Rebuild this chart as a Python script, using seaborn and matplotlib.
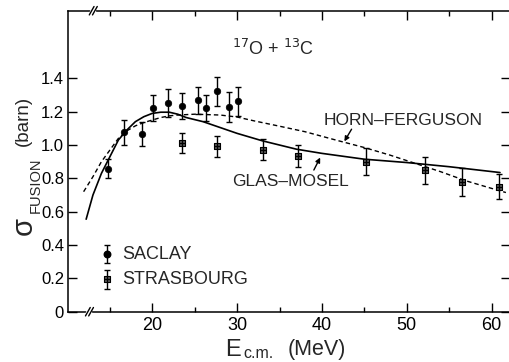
import numpy as np
import pandas as pd
import matplotlib
matplotlib.use("Agg")
import matplotlib.pyplot as plt
import matplotlib.transforms as mtransforms
import seaborn as sns

# Measured fusion cross sections, 17O + 13C
saclay_e = [14.8, 16.7, 18.8, 20.1, 21.9, 23.5, 25.4, 26.3, 27.6, 29.1, 30.1]
saclay_sigma = [0.857, 1.077, 1.067, 1.221, 1.255, 1.235, 1.269, 1.223, 1.323, 1.229, 1.263]
saclay_err = [0.057, 0.075, 0.073, 0.078, 0.084, 0.078, 0.080, 0.080, 0.088, 0.088, 0.088]

strasbourg_e = [23.5, 27.6, 33.0, 37.2, 45.2, 52.2, 56.5, 60.9]
strasbourg_sigma = [1.013, 0.993, 0.973, 0.933, 0.899, 0.849, 0.777, 0.749]
strasbourg_err = [0.060, 0.062, 0.064, 0.066, 0.081, 0.080, 0.083, 0.075]

# Model curves
glas_e = [12.2, 13.0, 14.0, 15.0, 16.0, 17.0, 18.0, 19.0, 20.0, 21.0, 22.0, 23.0,
          24.0, 26.0, 28.0, 30.0, 33.0, 37.0, 40.0, 45.0, 50.0, 55.0, 61.0]
glas_sigma = [0.555, 0.700, 0.830, 0.930, 1.030, 1.090, 1.140, 1.170, 1.190, 1.197,
              1.197, 1.185, 1.165, 1.140, 1.105, 1.070, 1.025, 0.975, 0.950, 0.915,
              0.895, 0.870, 0.835]

horn_e = [11.9, 13.0, 14.0, 15.0, 16.0, 17.0, 18.0, 19.0, 20.0, 21.0, 22.0, 23.0,
          25.0, 28.0, 30.0, 32.0, 35.0, 38.0, 42.0, 45.0, 48.0, 51.0, 54.0, 57.0,
          60.0, 61.7]
horn_sigma = [0.720, 0.810, 0.900, 0.970, 1.040, 1.085, 1.115, 1.135, 1.150, 1.165,
              1.175, 1.180, 1.185, 1.180, 1.168, 1.145, 1.113, 1.080, 1.025, 0.985,
              0.940, 0.890, 0.840, 0.785, 0.740, 0.715]

x_major = [20, 30, 40, 50, 60]
x_minor = [15, 25, 35, 45, 55]
y_major = [0, 0.2, 0.4, 0.6, 0.8, 1.0, 1.2, 1.4]
y_labels = ["0", "0.2", "0.4", "0.6", "0.8", "1.0", "1.2", "1.4"]

sns.set_theme(style="ticks")
plt.rcParams["font.family"] = ["Liberation Sans", "DejaVu Sans"]

W, H = 510, 362
fig = plt.figure(figsize=(W / 100, H / 100), dpi=100)
x0, x1, y0, y1 = 67.5, 510.5, 10.7, 311.7
ax = fig.add_axes([x0 / W, 1 - y1 / H, (x1 - x0) / W, (y1 - y0) / H])
ax.set_facecolor("white")
fig.patch.set_facecolor("white")

glas = pd.DataFrame({"E": glas_e, "sigma": glas_sigma})
horn = pd.DataFrame({"E": horn_e, "sigma": horn_sigma})
sns.lineplot(data=glas, x="E", y="sigma", ax=ax, color="black", lw=1.2,
             sort=False, estimator=None)
sns.lineplot(data=horn, x="E", y="sigma", ax=ax, color="black", lw=1.0,
             sort=False, estimator=None, dashes=False, linestyle=(0, (3.2, 2.2)))

# Error bars
ax.errorbar(saclay_e, saclay_sigma, yerr=saclay_err, fmt="none", ecolor="black",
            elinewidth=1.0, capsize=2.3, capthick=1.0)
ax.errorbar(strasbourg_e, strasbourg_sigma, yerr=strasbourg_err, fmt="none",
            ecolor="black", elinewidth=1.0, capsize=2.3, capthick=1.0)

sac = pd.DataFrame({"E": saclay_e, "sigma": saclay_sigma})
stra = pd.DataFrame({"E": strasbourg_e, "sigma": strasbourg_sigma})
sns.scatterplot(data=sac, x="E", y="sigma", ax=ax, marker="o", s=22,
                color="black", edgecolor="black", linewidth=0.5, zorder=5)
sns.scatterplot(data=stra, x="E", y="sigma", ax=ax, marker="s", s=24,
                color="0.35", edgecolor="black", linewidth=0.8, zorder=5)
sns.scatterplot(data=stra, x="E", y="sigma", ax=ax, marker="+", s=18,
                color="black", linewidth=0.9, zorder=6)

# In-axes key
key_x = 14.62
ax.errorbar([key_x], [0.346], yerr=[0.053], fmt="none", ecolor="black",
            elinewidth=1.0, capsize=2.3, capthick=1.0)
ax.errorbar([key_x], [0.196], yerr=[0.057], fmt="none", ecolor="black",
            elinewidth=1.0, capsize=2.3, capthick=1.0)
ax.scatter([key_x], [0.346], marker="o", s=22, color="black", zorder=5)
ax.scatter([key_x], [0.196], marker="s", s=24, color="0.35", edgecolor="black",
           linewidth=0.8, zorder=5)
ax.scatter([key_x], [0.196], marker="+", s=18, color="black", linewidth=0.9, zorder=6)
ax.text(16.5, 0.346, "SACLAY", fontsize=13, va="center", ha="left")
ax.text(16.5, 0.196, "STRASBOURG", fontsize=13, va="center", ha="left")

# Curve labels
ax.text(49.6, 1.15, "HORN\u2013FERGUSON", fontsize=12.5, ha="center", va="center")
ax.annotate("", xy=(42.65, 1.022), xytext=(43.5, 1.095),
            arrowprops=dict(arrowstyle="-|>", color="black", lw=1.0,
                            mutation_scale=7, shrinkA=0, shrinkB=0))
ax.text(36.3, 0.78, "GLAS\u2013MOSEL", fontsize=12.5, ha="center", va="center")
ax.annotate("", xy=(39.8, 0.925), xytext=(39.05, 0.85),
            arrowprops=dict(arrowstyle="-|>", color="black", lw=1.0,
                            mutation_scale=7, shrinkA=0, shrinkB=0))

# Reaction title
ax.text(34.3, 1.575, r"$^{17}$O + $^{13}$C", fontsize=13, ha="center", va="center")

ax.set_xlim(10, 62.24)
ax.set_ylim(0, 1.806)
ax.set_xticks(x_major)
ax.set_xticks(x_minor, minor=True)
ax.set_xticklabels([str(v) for v in x_major])
ax.set_yticks(y_major)
ax.set_yticklabels(y_labels)
ax.tick_params(which="both", direction="in", top=True, right=True, color="black",
               width=1.0, labelcolor="black")
ax.tick_params(axis="y", labelsize=12)
ax.tick_params(axis="x", labelsize=13)
ax.tick_params(which="major", length=6.5)
ax.tick_params(which="minor", length=3.5)
ax.tick_params(axis="y", pad=2.5)
ax.tick_params(axis="x", pad=3.5)
for s in ax.spines.values():
    s.set_color("black")
    s.set_linewidth(1.1)
ax.set_xlabel("")
ax.set_ylabel("")

# Axis break marks on the bottom and top spines
trans = mtransforms.blended_transform_factory(ax.transData, ax.transAxes)
for xb, yb in [(12.4, 0.0), (12.85, 1.0)]:
    ax.plot([xb - 0.05, xb + 0.3], [yb - 0.0, yb + 0.0], color="white", lw=2.5,
            transform=trans, clip_on=False, zorder=7)
    for dx in (0.0, 0.38):
        ax.plot([xb + dx - 0.28, xb + dx + 0.28], [yb - 0.014, yb + 0.014],
                color="black", lw=1.0, transform=trans, clip_on=False, zorder=8)

# Axis titles, set piecewise in figure pixels
def ftext(px, py, s, **kw):
    fig.text(px / W, 1 - py / H, s, **kw)

ftext(24, 226, "\u03c3", fontsize=21, rotation=90, ha="center", va="center")
ftext(35.5, 185, "FUSION", fontsize=10.5, rotation=90, ha="center", va="center")
ftext(23, 121, "(barn)", fontsize=13.5, rotation=90, ha="center", va="center")

ftext(233, 350, "E", fontsize=17, ha="center", va="center")
ftext(259, 354, "c.m.", fontsize=11.5, ha="center", va="center")
ftext(317, 349, "(MeV)", fontsize=15.5, ha="center", va="center")

fig.savefig("out.png", dpi=100, facecolor="white")
